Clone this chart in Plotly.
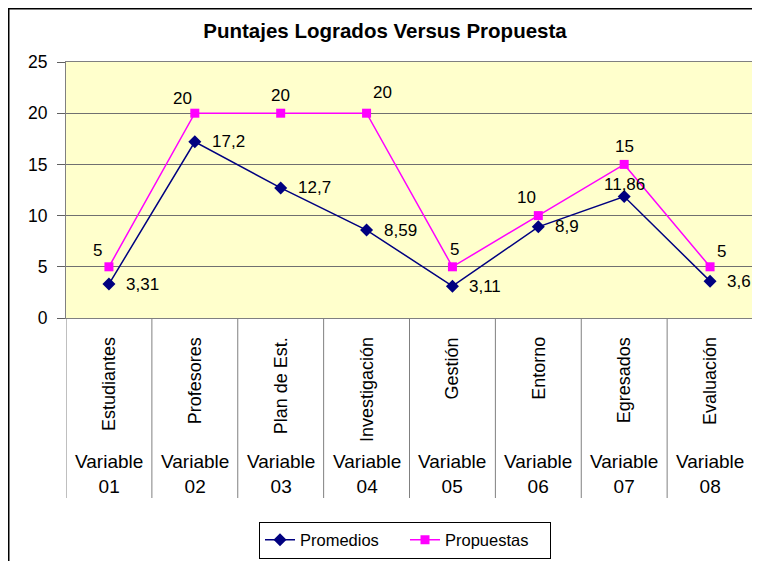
import plotly.graph_objects as go

categories = ["Estudiantes", "Profesores", "Plan de Est.", "Investigación",
              "Gestión", "Entorno", "Egresados", "Evaluación"]
groups = ["Variable<br>01", "Variable<br>02", "Variable<br>03", "Variable<br>04",
          "Variable<br>05", "Variable<br>06", "Variable<br>07", "Variable<br>08"]
promedios = [3.31, 17.2, 12.7, 8.59, 3.11, 8.9, 11.86, 3.6]
propuestas = [5, 20, 20, 20, 5, 10, 15, 5]
y_ticks = [0, 5, 10, 15, 20, 25]

FONT = "Liberation Sans, Arial, sans-serif"
W, H = 752, 553          # page body has an 8px margin
L, R, T, B = 58, 7, 54, 243
PH = H - T - B           # plot height in px
PW = W - L - R
xs = list(range(len(categories)))

fig = go.Figure()
fig.add_trace(go.Scatter(
    x=xs, y=promedios, name="Promedios", mode="lines+markers",
    line=dict(color="#000080", width=1.5),
    marker=dict(symbol="diamond", size=10, color="#000080"),
))
fig.add_trace(go.Scatter(
    x=xs, y=propuestas, name="Propuestas", mode="lines+markers",
    line=dict(color="#FF00FF", width=1.5),
    marker=dict(symbol="square", size=9, color="#FF00FF"),
))

def fmt(v):
    return str(v).replace(".", ",")

annotations = []
prom_style = [("left", 15, 0)] * 6 + [("center", 0, 12)] + [("left", 15, 0)]
for i, v in enumerate(promedios):
    anchor, dx, dy = prom_style[i]
    annotations.append(dict(x=xs[i], y=v, xref="x", yref="y", text=fmt(v),
                            showarrow=False, xanchor=anchor, yanchor="middle",
                            xshift=dx, yshift=dy,
                            font=dict(family=FONT, size=17, color="black")))
prop_dx = [-11, -12, 0, 16, 2, -12, 0, 11]
prop_dy = [16, 15, 18, 21, 17, 18, 18, 15]
for i, v in enumerate(propuestas):
    annotations.append(dict(x=xs[i], y=v, xref="x", yref="y", text=fmt(v),
                            showarrow=False, xanchor="center", yanchor="middle",
                            xshift=prop_dx[i], yshift=prop_dy[i],
                            font=dict(family=FONT, size=17, color="black")))
for i, c in enumerate(categories):
    annotations.append(dict(x=xs[i], y=-17 / PH, xref="x", yref="paper", text=c,
                            showarrow=False, textangle=-90, xanchor="center",
                            yanchor="top",
                            font=dict(family=FONT, size=18, color="black")))
    annotations.append(dict(x=xs[i], y=-156 / PH, xref="x", yref="paper", text=groups[i],
                            showarrow=False, xanchor="center", yanchor="middle",
                            font=dict(family=FONT, size=19, color="black")))

shapes = []
for b in [i - 0.5 for i in range(len(categories) + 1)]:
    shapes.append(dict(type="line", xref="x", yref="paper", x0=b, x1=b,
                       y0=0, y1=-180 / PH, line=dict(color="#808080", width=1)))
shapes.append(dict(type="rect", xref="paper", yref="paper",
                   x0=(0.75 - L) / PW, x1=1.2, y0=(H - B - 0.75) / PH, y1=-1.3,
                   line=dict(color="black", width=1.5), fillcolor="rgba(0,0,0,0)"))

fig.update_layout(
    width=W, height=H,
    margin=dict(l=L, r=R, t=T, b=B),
    paper_bgcolor="white", plot_bgcolor="#FFFFCC",
    font=dict(family=FONT, size=16, color="black"),
    title=dict(text="<b>Puntajes Logrados Versus Propuesta</b>",
               xref="container", x=377 / W, xanchor="center",
               yref="container", y=1 - 23 / H, yanchor="middle",
               font=dict(family=FONT, size=20.5, color="black")),
    xaxis=dict(range=[-0.5, 7.5], showticklabels=False, showgrid=False,
               zeroline=False, showline=True, mirror=True, linecolor="#808080",
               ticks=""),
    yaxis=dict(range=[0, 25], tickvals=y_ticks, showgrid=True, gridcolor="#707070",
               gridwidth=1, zeroline=False, showline=True, mirror=True,
               linecolor="#808080", ticks="outside", ticklen=8, tickcolor="#606060",
               ticklabelstandoff=6,
               tickfont=dict(family=FONT, size=17.5, color="black")),
    showlegend=True,
    legend=dict(orientation="h", xref="container", x=397 / W, xanchor="center",
                yref="container", y=1 - 532 / H, yanchor="middle",
                bordercolor="black", borderwidth=1, bgcolor="white",
                entrywidthmode="pixels", entrywidth=100,
                font=dict(family=FONT, size=16.5, color="black")),
    annotations=annotations, shapes=shapes,
)

fig.write_html("out.html")
